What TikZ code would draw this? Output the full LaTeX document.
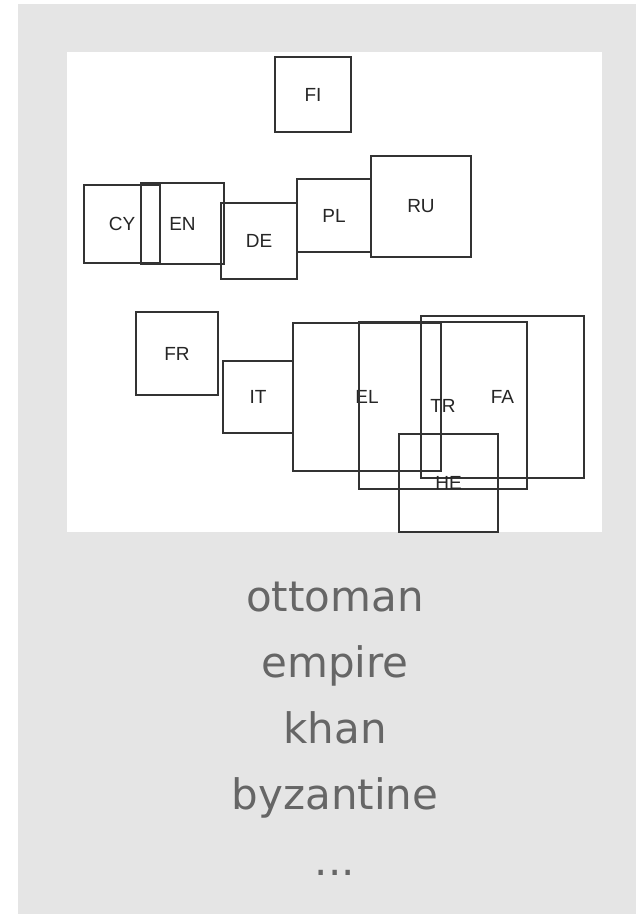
\documentclass[tikz,border=0pt]{standalone}
\usepackage{fontspec}
\setmainfont{DejaVu Sans}
\newfontfamily\labfont{Liberation Sans}
\definecolor{panelgray}{HTML}{E5E5E5}
\definecolor{wordgray}{HTML}{666666}
\definecolor{boxline}{HTML}{333333}
\begin{document}
\begin{tikzpicture}[x=1pt,y=-1pt,
  cbox/.style={draw=boxline, line width=1.5pt, inner sep=0pt,
    font=\labfont\fontsize{19}{22}\selectfont, text=black!85},
  word/.style={anchor=base, text=wordgray, font=\fontsize{42}{50}\selectfont}]
\useasboundingbox (0,0) rectangle (636,914);
\fill[white] (0,0) rectangle (636,914);
\fill[panelgray] (18,4) rectangle (636,914);
\fill[white] (67,52) rectangle (602,532);
\node[cbox, minimum width=76pt, minimum height=75pt] (FI) at (313,94.5) {FI};
\node[cbox, minimum width=76pt, minimum height=78pt] (CY) at (122,224) {CY};
\node[cbox, minimum width=83pt, minimum height=81pt] (EN) at (182.5,223.5) {EN};
\node[cbox, minimum width=76pt, minimum height=76pt] (DE) at (259,241) {DE};
\node[cbox, minimum width=74pt, minimum height=73pt] (PL) at (334,215.5) {PL};
\node[cbox, minimum width=100pt, minimum height=101pt] (RU) at (421,206.5) {RU};
\node[cbox, minimum width=82pt, minimum height=83pt] (FR) at (177,353.5) {FR};
\node[cbox, minimum width=70pt, minimum height=72pt] (IT) at (258,397) {IT};
\node[cbox, minimum width=148pt, minimum height=148pt] (EL) at (367,397) {EL};
\node[cbox, minimum width=168pt, minimum height=167pt] (TR) at (443,405.5) {TR};
\node[cbox, minimum width=163pt, minimum height=162pt] (FA) at (502.5,397) {FA};
\node[cbox, minimum width=99pt, minimum height=98pt] (HE) at (448.5,483) {HE};
\node[word] (w1) at (335,611) {ottoman};
\node[word] (w2) at (335,677) {empire};
\node[word] (w3) at (335,743) {khan};
\node[word] (w4) at (335,809) {byzantine};
\node[word] (w5) at (335,875) {...};
\end{tikzpicture}
\end{document}
